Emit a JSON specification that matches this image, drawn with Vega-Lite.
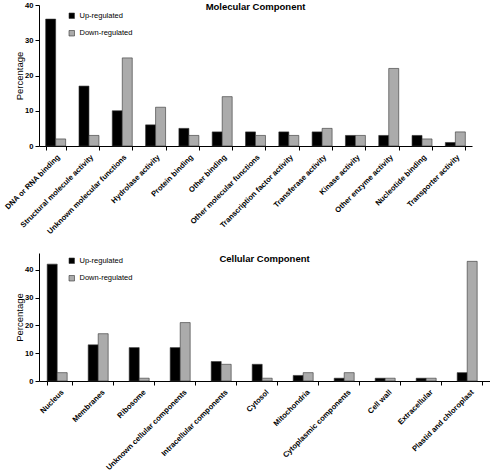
{
  "$schema": "https://vega.github.io/schema/vega-lite/v6.json",
  "background": "white",
  "padding": {"left": 3, "top": 1, "right": 0, "bottom": 0},
  "bounds": "flush",
  "spacing": 107,
  "config": {
    "view": {"stroke": null},
    "font": "Liberation Sans",
    "axis": {
      "grid": false,
      "domainColor": "black",
      "domainWidth": 1,
      "tickColor": "black",
      "tickSize": 4,
      "labelFont": "Liberation Sans",
      "labelFontWeight": "bold",
      "labelFontSize": 7.6,
      "labelColor": "black",
      "titleFont": "Liberation Sans",
      "titleFontWeight": "normal",
      "titleFontSize": 9.5,
      "titleColor": "black"
    },
    "legend": {
      "labelFont": "Liberation Sans",
      "labelFontSize": 7.5,
      "labelColor": "black",
      "symbolType": "square",
      "symbolSize": 30,
      "symbolStrokeWidth": 0.6,
      "labelOffset": 4,
      "rowPadding": 8.5,
      "padding": 0
    },
    "title": {"font": "Liberation Sans", "fontSize": 9.5, "fontWeight": "bold", "color": "black"}
  },
  "datasets": {
    "mol": [
      {"category": "DNA or RNA binding", "reg": "Up-regulated", "pct": 36},
      {"category": "DNA or RNA binding", "reg": "Down-regulated", "pct": 2},
      {"category": "Structural molecule activity", "reg": "Up-regulated", "pct": 17},
      {"category": "Structural molecule activity", "reg": "Down-regulated", "pct": 3},
      {"category": "Unknown molecular functions", "reg": "Up-regulated", "pct": 10},
      {"category": "Unknown molecular functions", "reg": "Down-regulated", "pct": 25},
      {"category": "Hydrolase activity", "reg": "Up-regulated", "pct": 6},
      {"category": "Hydrolase activity", "reg": "Down-regulated", "pct": 11},
      {"category": "Protein binding", "reg": "Up-regulated", "pct": 5},
      {"category": "Protein binding", "reg": "Down-regulated", "pct": 3},
      {"category": "Other binding", "reg": "Up-regulated", "pct": 4},
      {"category": "Other binding", "reg": "Down-regulated", "pct": 14},
      {"category": "Other molecular functions", "reg": "Up-regulated", "pct": 4},
      {"category": "Other molecular functions", "reg": "Down-regulated", "pct": 3},
      {"category": "Transcription factor activity", "reg": "Up-regulated", "pct": 4},
      {"category": "Transcription factor activity", "reg": "Down-regulated", "pct": 3},
      {"category": "Transferase activity", "reg": "Up-regulated", "pct": 4},
      {"category": "Transferase activity", "reg": "Down-regulated", "pct": 5},
      {"category": "Kinase activity", "reg": "Up-regulated", "pct": 3},
      {"category": "Kinase activity", "reg": "Down-regulated", "pct": 3},
      {"category": "Other enzyme activity", "reg": "Up-regulated", "pct": 3},
      {"category": "Other enzyme activity", "reg": "Down-regulated", "pct": 22},
      {"category": "Nucleotide binding", "reg": "Up-regulated", "pct": 3},
      {"category": "Nucleotide binding", "reg": "Down-regulated", "pct": 2},
      {"category": "Transporter activity", "reg": "Up-regulated", "pct": 1},
      {"category": "Transporter activity", "reg": "Down-regulated", "pct": 4}
    ],
    "cel": [
      {"category": "Nucleus", "reg": "Up-regulated", "pct": 42},
      {"category": "Nucleus", "reg": "Down-regulated", "pct": 3},
      {"category": "Membranes", "reg": "Up-regulated", "pct": 13},
      {"category": "Membranes", "reg": "Down-regulated", "pct": 17},
      {"category": "Ribosome", "reg": "Up-regulated", "pct": 12},
      {"category": "Ribosome", "reg": "Down-regulated", "pct": 1},
      {"category": "Unknown cellular components", "reg": "Up-regulated", "pct": 12},
      {"category": "Unknown cellular components", "reg": "Down-regulated", "pct": 21},
      {"category": "Intracellular components", "reg": "Up-regulated", "pct": 7},
      {"category": "Intracellular components", "reg": "Down-regulated", "pct": 6},
      {"category": "Cytosol", "reg": "Up-regulated", "pct": 6},
      {"category": "Cytosol", "reg": "Down-regulated", "pct": 1},
      {"category": "Mitochondria", "reg": "Up-regulated", "pct": 2},
      {"category": "Mitochondria", "reg": "Down-regulated", "pct": 3},
      {"category": "Cytoplasmic components", "reg": "Up-regulated", "pct": 1},
      {"category": "Cytoplasmic components", "reg": "Down-regulated", "pct": 3},
      {"category": "Cell wall", "reg": "Up-regulated", "pct": 1},
      {"category": "Cell wall", "reg": "Down-regulated", "pct": 1},
      {"category": "Extracellular", "reg": "Up-regulated", "pct": 1},
      {"category": "Extracellular", "reg": "Down-regulated", "pct": 1},
      {"category": "Plastid and chloroplast", "reg": "Up-regulated", "pct": 3},
      {"category": "Plastid and chloroplast", "reg": "Down-regulated", "pct": 43}
    ]
  },
  "resolve": {"scale": {"color": "independent", "x": "independent", "y": "independent"}, "legend": {"color": "independent"}},
  "vconcat": [
    {
      "data": {"name": "mol"},
      "width": 433,
      "height": 141,
      "title": {"text": "Molecular Component", "offset": -10, "anchor": "middle"},
      "mark": {"type": "bar", "stroke": "#333333", "strokeWidth": 0.6},
      "encoding": {
        "x": {
          "field": "category", "type": "nominal", "sort": null,
          "scale": {"paddingInner": 0.4, "paddingOuter": 0.2},
          "axis": {"title": null, "labelAngle": -45, "labelAlign": "right", "labelBaseline": "top", "tickBand": "extent", "labelPadding": 3}
        },
        "xOffset": {"field": "reg", "type": "nominal", "sort": ["Up-regulated", "Down-regulated"], "scale": {"paddingInner": 0, "paddingOuter": 0}},
        "y": {
          "field": "pct", "type": "quantitative",
          "scale": {"domain": [0, 40], "nice": false},
          "axis": {"title": "Percentage", "values": [0, 10, 20, 30, 40], "titlePadding": 0, "labelPadding": 2}
        },
        "color": {
          "field": "reg", "type": "nominal",
          "scale": {"domain": ["Up-regulated", "Down-regulated"], "range": ["#000000", "#ababab"]},
          "legend": {"title": null, "orient": "none", "legendX": 29, "legendY": 7, "symbolStrokeColor": "#333333"}
        }
      }
    },
    {
      "data": {"name": "cel"},
      "width": 451,
      "height": 128,
      "title": {"text": "Cellular Component", "offset": -10, "anchor": "middle"},
      "mark": {"type": "bar", "stroke": "#333333", "strokeWidth": 0.6},
      "encoding": {
        "x": {
          "field": "category", "type": "nominal", "sort": null,
          "scale": {"paddingInner": 0.4, "paddingOuter": 0.2},
          "axis": {"title": null, "labelAngle": -45, "labelAlign": "right", "labelBaseline": "top", "tickBand": "extent", "labelPadding": 3}
        },
        "xOffset": {"field": "reg", "type": "nominal", "sort": ["Up-regulated", "Down-regulated"], "scale": {"paddingInner": 0, "paddingOuter": 0}},
        "y": {
          "field": "pct", "type": "quantitative",
          "scale": {"domain": [0, 46], "nice": false},
          "axis": {"title": "Percentage", "values": [0, 10, 20, 30, 40], "titlePadding": 0, "labelPadding": 2}
        },
        "color": {
          "field": "reg", "type": "nominal",
          "scale": {"domain": ["Up-regulated", "Down-regulated"], "range": ["#000000", "#ababab"]},
          "legend": {"title": null, "orient": "none", "legendX": 29, "legendY": 4, "symbolStrokeColor": "#333333"}
        }
      }
    }
  ]
}
